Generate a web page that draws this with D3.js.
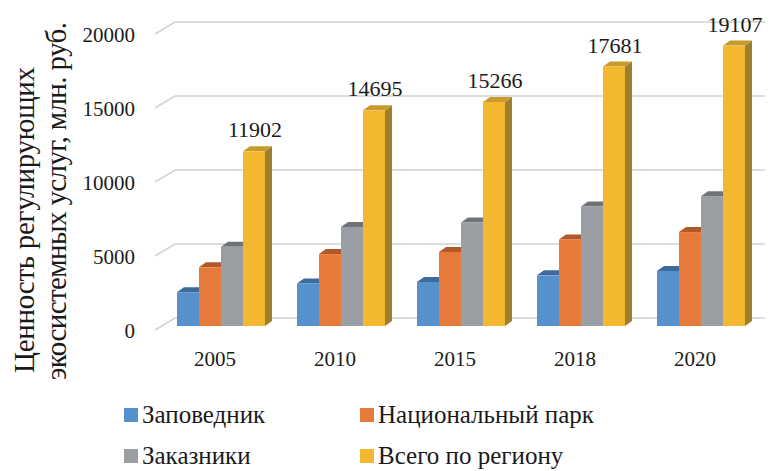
<!DOCTYPE html>
<html>
<head>
 <meta charset="UTF-8">
 <script src="https://cdn.jsdelivr.net/npm/d3@7"></script>
 <style>
body {
  margin: 0;
  background: #fff;
}
svg text {
  font-family: "Liberation Serif", "DejaVu Serif", serif;
  fill: #1a1a1a;
}
.grid {
  stroke: #d2d2d2;
  stroke-width: 1.5px;
  fill: none;
}
 </style>
</head>
<body>
<svg width="770" height="471" font-family="Liberation Serif, serif"></svg>
<script>
var years = ["2005", "2010", "2015", "2018", "2020"];
var series = ["Заповедник", "Национальный парк", "Заказники", "Всего по региону"];
var zapovednik = [2300, 2900, 3000, 3450, 3750];
var natsPark = [4000, 4900, 5050, 5900, 6400];
var zakazniki = [5400, 6750, 7050, 8150, 8850];
var vsego = [11902, 14695, 15266, 17681, 19107];
var yTicks = [0, 5000, 10000, 15000, 20000];
var titleLines = ["Ценность регулирующих", "экосистемных услуг, млн. руб."];

var values = [zapovednik, natsPark, zakazniki, vsego];
var frontCol = ["#5591cd", "#e67a3b", "#9b9ea2", "#f3b82f"],
  topCol = ["#3c6b9c", "#b0582a", "#6f7277", "#c79b2b"],
  sideCol = ["#3a6390", "#a5532a", "#6a6d71", "#9e7f2f"];

var svg = d3.select("svg");
var depthX = 7, depthY = -5;

var x0 = d3.scaleBand().domain(years).range([161, 761])
  .paddingInner(32/120).paddingOuter(16/120);
var x1 = d3.scaleBand().domain(series).range([0, x0.bandwidth()]);
// back wall scale (grid) and bar front scale
var yBack = d3.scaleLinear().domain([0, 20000]).range([318, 22]);
var yBar = d3.scaleLinear().domain([0, 20000]).range([326, 32.5]);

// gridlines with left wall diagonal
yTicks.forEach(function(t){
  var yb = yBack(t);
  svg.append("path")
    .attr("class", "grid")
    .attr("d", "M155," + (yb + 12) + "L175," + yb + "L765," + yb);
  svg.append("text")
    .attr("x", 135)
    .attr("y", yb + 13)
    .attr("dy", "0.35em")
    .attr("text-anchor", "end")
    .style("font-size", "21px")
    .text(t);
});

// bars
years.forEach(function(yr, i){
  series.forEach(function(s, j){
    var v = values[j][i],
      x = x0(yr) + x1(s),
      w = x1.bandwidth(),
      y = yBar(v),
      y0 = yBar(0);
    var g = svg.append("g");
    g.append("path")
      .attr("fill", sideCol[j])
      .attr("d", "M" + (x + w) + "," + y + "l" + depthX + "," + depthY +
        "L" + (x + w + depthX) + "," + (y0 + depthY) + "L" + (x + w) + "," + y0 + "Z");
    g.append("path")
      .attr("fill", topCol[j])
      .attr("d", "M" + x + "," + y + "l" + depthX + "," + depthY +
        "h" + w + "l" + (-depthX) + "," + (-depthY) + "Z");
    g.append("rect")
      .attr("x", x).attr("y", y)
      .attr("width", w).attr("height", y0 - y)
      .attr("fill", frontCol[j]);
    if (j == 3) {
      svg.append("text")
        .attr("x", x + w / 2 + 1)
        .attr("y", y - 14)
        .attr("text-anchor", "middle")
        .style("font-size", "22px")
        .text(v);
    }
  });
  svg.append("text")
    .attr("x", x0(yr) + x0.bandwidth() / 2 - 6)
    .attr("y", 366)
    .attr("text-anchor", "middle")
    .style("font-size", "21px")
    .text(yr);
});

// axis title, two rotated lines
var titlePos = [[34, 220, 306], [66, 201, 358]];
titleLines.forEach(function(line, k){
  var p = titlePos[k];
  svg.append("text")
    .attr("transform", "translate(" + p[0] + "," + p[1] + ") rotate(-90)")
    .attr("text-anchor", "middle")
    .attr("textLength", p[2])
    .attr("lengthAdjust", "spacing")
    .style("font-size", "29px")
    .text(line);
});

// legend
var legendPos = [[124, 408], [360, 408], [124, 449], [360, 449]];
series.forEach(function(s, j){
  var p = legendPos[j];
  svg.append("rect")
    .attr("x", p[0]).attr("y", p[1])
    .attr("width", 14).attr("height", 14)
    .attr("fill", frontCol[j]);
  svg.append("text")
    .attr("x", p[0] + 18)
    .attr("y", p[1] + 15)
    .style("font-size", "25px")
    .text(s);
});
</script>
</body>
</html>
